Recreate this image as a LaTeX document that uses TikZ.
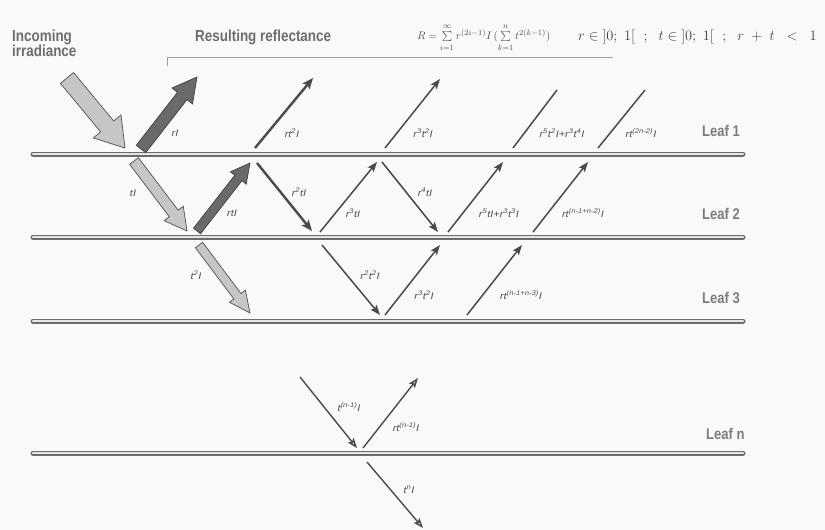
\documentclass[tikz,border=0pt]{standalone}
\usepackage{fontspec}
\setmainfont{Liberation Sans}
\newfontfamily\headfont{Liberation Sans}[FakeStretch=0.84]
\newfontfamily\lblfont{Liberation Sans}[FakeStretch=1.15]
\usetikzlibrary{calc,arrows.meta}
\definecolor{bg}{HTML}{F8F9F9}
\definecolor{headgray}{HTML}{6E6E6E}
\definecolor{lblgray}{HTML}{505050}
\definecolor{linegray}{HTML}{4A4A4A}
\definecolor{lightfill}{HTML}{C6C6C6}
\definecolor{darkfill}{HTML}{6A6A6A}
\definecolor{edgegray}{HTML}{505050}
\definecolor{barin}{HTML}{E4E4E4}
\definecolor{barout}{HTML}{6C6C6C}
% block arrow: #1 style, #2 tail, #3 tip, #4 shaft half width, #5 head half width, #6 head length
\newcommand\blockarr[6]{%
  \coordinate (hb) at ($(#3)!#6!(#2)$);
  \draw[#1] ($(#2)!#4!90:(#3)$) -- ($(hb)!#4!90:(#3)$) -- ($(hb)!#5!90:(#3)$) -- (#3)
    -- ($(hb)!#5!-90:(#3)$) -- ($(hb)!#4!-90:(#3)$) -- ($(#2)!#4!-90:(#3)$) -- cycle;}
\begin{document}
\begin{tikzpicture}[x=1pt,y=-1pt,
  heading/.style={font=\headfont\bfseries\fontsize{16}{15}\selectfont, text=headgray, inner sep=0pt, align=left},
  leaflabel/.style={font=\headfont\bfseries\fontsize{15.5}{16}\selectfont, text=headgray!90, inner sep=0pt, anchor=west},
  lbl/.style={font=\lblfont\itshape\fontsize{9.5}{10}\selectfont, text=lblgray, inner sep=0pt},
  leafbar/.style={draw=barout, double=barin, double distance=2.2pt, line width=1.4pt, line cap=round},
  lightblock/.style={fill=lightfill, draw=edgegray, line width=0.7pt, line join=miter},
  darkblock/.style={fill=darkfill, draw=edgegray!80!black, line width=0.7pt, line join=miter},
  thinarr/.style={draw=linegray, line width=1.5pt, -{Stealth[length=10pt,width=7.5pt,inset=2pt]}},
  medarr/.style={draw=linegray, line width=2.4pt, -{Stealth[length=11pt,width=9pt,inset=2.5pt]}},
  plainline/.style={draw=linegray, line width=1.5pt},
  openarr/.style={draw=linegray, line width=1.4pt, -{Stealth[length=10pt,width=7.5pt,inset=2pt,fill=gray!25]}}
]
\fill[bg] (0,0) rectangle (825,530);
\useasboundingbox (0,0) rectangle (825,530);

% leaves
\coordinate (L1a) at (33,154); \coordinate (L1b) at (743,154);
\coordinate (L2a) at (33,237); \coordinate (L2b) at (743,237);
\coordinate (L3a) at (33,321); \coordinate (L3b) at (743,321);
\coordinate (Lna) at (33,453); \coordinate (Lnb) at (743,453);
\draw[leafbar] (L1a) -- (L1b);
\draw[leafbar] (L2a) -- (L2b);
\draw[leafbar] (L3a) -- (L3b);
\draw[leafbar] (Lna) -- (Lnb);
\node[leaflabel] (leaf1) at (702,131) {Leaf 1};
\node[leaflabel] (leaf2) at (702,214) {Leaf 2};
\node[leaflabel] (leaf3) at (702,298) {Leaf 3};
\node[leaflabel] (leafn) at (706,434) {Leaf n};

% headings
\node[heading, anchor=north west] (inc) at (12,30) {Incoming\\irradiance};
\node[heading, anchor=west] (res) at (195,37) {Resulting reflectance};
\coordinate (brA) at (167,66); \coordinate (brB) at (167,57); \coordinate (brC) at (613,57);
\draw[draw=gray!75, line width=0.8pt] (brA) -- (brB) -- (brC);

% formula
\node[anchor=west, inner sep=0pt, text=lblgray] (f1) at (417,38)
  {\fontsize{11}{12}\selectfont $R=\sum\limits_{i=1\rule{0pt}{7pt}}^{\infty\rule[-2pt]{0pt}{0pt}} r^{(2i-1)} I\, \bigl(\sum\limits_{k=1\rule{0pt}{7pt}}^{n\rule[-2pt]{0pt}{0pt}} t^{2(k-1)}\bigr)$};
\node[anchor=west, inner sep=0pt, text=lblgray!80!black] (f2) at (578,37)
  {\fontsize{15.5}{16}\selectfont $r\in{]0;\ 1[}\ \ ;\ \ t\in{]0;\ 1[}\ \ ;\ \ r\;+\;t\;\;<\;\;1$};

% ---- Leaf 1 ----
\coordinate (inA) at (67,78);  \coordinate (inB) at (125,148);
\blockarr{lightblock}{inA}{inB}{8.5pt}{18pt}{28pt}
\coordinate (rIA) at (141,149); \coordinate (rIB) at (197,77);
\blockarr{darkblock}{rIA}{rIB}{6pt}{13pt}{24pt}
\coordinate (a1s) at (255,148); \coordinate (a1e) at (313,78);
\draw[medarr] (a1s) -- (a1e);
\coordinate (a2s) at (385,148); \coordinate (a2e) at (440,79);
\draw[thinarr] (a2s) -- (a2e);
\coordinate (a3s) at (513,148); \coordinate (a3e) at (557,90);
\draw[plainline] (a3s) -- (a3e);
\coordinate (a4s) at (598,148); \coordinate (a4e) at (645,90);
\draw[plainline] (a4s) -- (a4e);
\node[lbl] (l1) at (175,133) {rI};
\node[lbl] (l2) at (292,133) {rt\textsuperscript{2}I};
\node[lbl] (l3) at (423,133) {r\textsuperscript{3}t\textsuperscript{2}I};
\node[lbl] (l4) at (562,133) {r\textsuperscript{5}t\textsuperscript{2}I+r\textsuperscript{3}t\textsuperscript{4}I};
\node[lbl] (l5) at (641,133) {rt\textsuperscript{(2n-2)}I};

% ---- Leaf 2 ----
\coordinate (tIA) at (134,161); \coordinate (tIB) at (187,231);
\blockarr{lightblock}{tIA}{tIB}{5.5pt}{12pt}{22pt}
\coordinate (rtIA) at (197,231); \coordinate (rtIB) at (250,163);
\blockarr{darkblock}{rtIA}{rtIB}{4.5pt}{10pt}{19pt}
\coordinate (b1s) at (257,163); \coordinate (b1e) at (312,231);
\draw[medarr] (b1s) -- (b1e);
\coordinate (b2s) at (320,232); \coordinate (b2e) at (377,162);
\draw[thinarr] (b2s) -- (b2e);
\coordinate (b3s) at (382,162); \coordinate (b3e) at (438,232);
\draw[thinarr] (b3s) -- (b3e);
\coordinate (b4s) at (448,232); \coordinate (b4e) at (503,162);
\draw[thinarr] (b4s) -- (b4e);
\coordinate (b5s) at (533,232); \coordinate (b5e) at (588,162);
\draw[thinarr] (b5s) -- (b5e);
\node[lbl] (m1) at (133,193) {tI};
\node[lbl] (m2) at (232,213) {rtI};
\node[lbl] (m3) at (299,192) {r\textsuperscript{2}tI};
\node[lbl] (m4) at (353,213) {r\textsuperscript{3}tI};
\node[lbl] (m5) at (425,192) {r\textsuperscript{4}tI};
\node[lbl] (m6) at (499,213) {r\textsuperscript{5}tI+r\textsuperscript{3}t\textsuperscript{3}I};
\node[lbl] (m7) at (583,213) {rt\textsuperscript{(n-1+n-2)}I};

% ---- Leaf 3 ----
\coordinate (t2A) at (199,245); \coordinate (t2B) at (250,313);
\blockarr{lightblock}{t2A}{t2B}{4.5pt}{10pt}{21pt}
\coordinate (c1s) at (322,245); \coordinate (c1e) at (380,315);
\draw[thinarr] (c1s) -- (c1e);
\coordinate (c2s) at (385,315); \coordinate (c2e) at (440,245);
\draw[thinarr] (c2s) -- (c2e);
\coordinate (c3s) at (467,315); \coordinate (c3e) at (522,245);
\draw[thinarr] (c3s) -- (c3e);
\node[lbl] (n1) at (196,275) {t\textsuperscript{2}I};
\node[lbl] (n2) at (370,275) {r\textsuperscript{2}t\textsuperscript{2}I};
\node[lbl] (n3) at (424,295) {r\textsuperscript{3}t\textsuperscript{2}I};
\node[lbl] (n4) at (521,295) {rt\textsuperscript{(n-1+n-3)}I};

% ---- Leaf n ----
\coordinate (d1s) at (300,377); \coordinate (d1e) at (357,448);
\draw[openarr] (d1s) -- (d1e);
\coordinate (d2s) at (363,448); \coordinate (d2e) at (418,378);
\draw[openarr] (d2s) -- (d2e);
\coordinate (d3s) at (367,462); \coordinate (d3e) at (423,528);
\draw[openarr] (d3s) -- (d3e);
\node[lbl] (p1) at (349,407) {t\textsuperscript{(n-1)}I};
\node[lbl] (p2) at (406,427) {rt\textsuperscript{(n-1)}I};
\node[lbl] (p3) at (409,490) {t\textsuperscript{n}I};
\end{tikzpicture}
\end{document}
